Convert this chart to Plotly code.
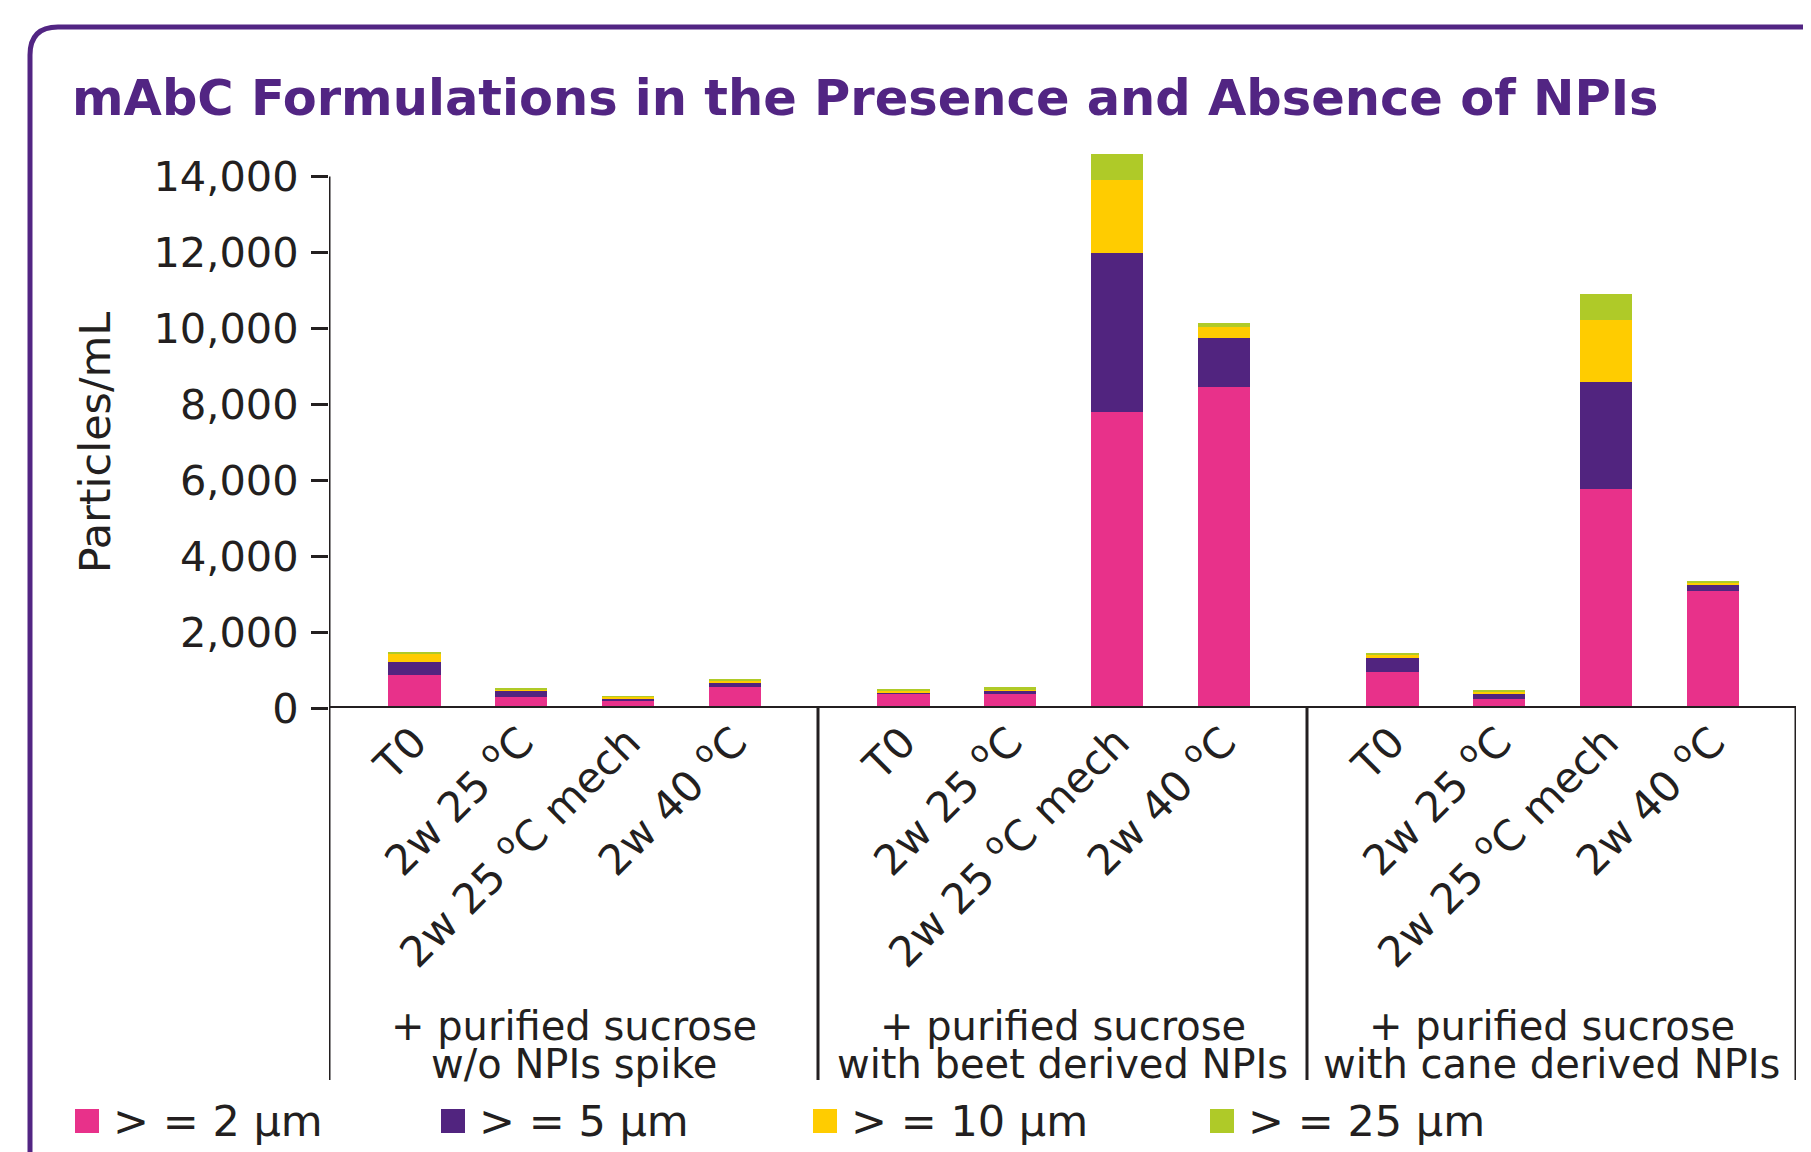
import plotly.graph_objects as go

# ---------------------------
# data (particles/mL)
# ---------------------------
groups = [
    ["+ purified sucrose", "w/o NPIs spike"],
    ["+ purified sucrose", "with beet derived NPIs"],
    ["+ purified sucrose", "with cane derived NPIs"],
]
conditions = ["T0", "2w 25 <sup>o</sup>C", "2w 25 <sup>o</sup>C mech", "2w 40 <sup>o</sup>C"]

series_names = ["> = 2 µm", "> = 5 µm", "> = 10 µm", "> = 25 µm"]
series_colors = ["#E8318A", "#51247F", "#FFCC00", "#AFCA28"]

# one value per bar, groups in order (3 groups x 4 conditions)
ge2 = [860, 300, 175, 565, 360, 360, 7810, 8450, 940, 250, 5760, 3070]
ge5 = [340, 140, 70, 95, 60, 100, 4170, 1310, 370, 130, 2820, 190]
ge10 = [240, 60, 45, 60, 40, 40, 1940, 270, 110, 50, 1650, 50]
ge25 = [30, 20, 20, 30, 30, 45, 670, 100, 40, 30, 670, 30]

series_values = [ge2, ge5, ge10, ge25]

# ---------------------------
# layout helpers (pixel targets are page pixels; page body adds 8px)
# ---------------------------
W, H = 1811, 1152
OFF = 8
ML, MR, MT, MB = 329 - OFF, 15 + OFF, 150 - OFF, 444 + OFF
GROUP_W = 4.58
FIRST = 0.8
XMAX = GROUP_W * len(groups)
YMAX = 14700

xs = [g * GROUP_W + FIRST + i for g in range(len(groups)) for i in range(len(conditions))]
tick_text = conditions * len(groups)

INK = "#231F20"
PURPLE = "#522583"
FONT = "DejaVu Sans"

fig = go.Figure()
for name, color, vals in zip(series_names, series_colors, series_values):
    fig.add_trace(go.Bar(x=xs, y=vals, name=name, marker_color=color,
                         marker_line_width=0, width=0.49, showlegend=False))

plot_h = H - MT - MB
plot_w = W - ML - MR


def py(page_y):
    # page pixel row -> paper y
    return (H - MB - (page_y - OFF)) / plot_h


def px(page_x):
    return (page_x - OFF - ML) / plot_w


shapes = []
# y axis line (data part + extension down through the label area)
shapes.append(dict(type="line", xref="x", yref="y", x0=0, x1=0, y0=0, y1=14000,
                   line=dict(color=INK, width=3)))
for xv in [GROUP_W * k for k in range(len(groups) + 1)]:
    shapes.append(dict(type="line", xref="x", yref="paper", x0=xv, x1=xv,
                       y0=0, y1=py(1080), line=dict(color=INK, width=3)))
# x axis line
shapes.append(dict(type="line", xref="x", yref="y", x0=0, x1=XMAX, y0=0, y1=0,
                   line=dict(color=INK, width=4)))

# rounded purple frame
fx, ftop = px(30), py(27)
rx, ry = 28 / plot_w, 28 / plot_h
shapes.append(dict(type="path", xref="paper", yref="paper",
                   path=f"M {fx},{py(1200)} L {fx},{ftop - ry} Q {fx},{ftop} {fx + rx},{ftop} L {px(1850)},{ftop}",
                   line=dict(color=PURPLE, width=5)))

annotations = []
# y axis title
annotations.append(dict(text="Particles/mL", xref="paper", yref="y", x=px(95), y=7000,
                        textangle=-90, showarrow=False, xanchor="center", yanchor="middle",
                        font=dict(family=FONT, size=43, color=INK)))
# group labels
for g, (l1, l2) in enumerate(groups):
    cx = g * GROUP_W + GROUP_W / 2
    annotations.append(dict(text=l1, xref="x", yref="paper", x=cx, y=py(1026), showarrow=False,
                            xanchor="center", yanchor="middle", font=dict(family=FONT, size=40, color=INK)))
    annotations.append(dict(text=l2, xref="x", yref="paper", x=cx, y=py(1064), showarrow=False,
                            xanchor="center", yanchor="middle", font=dict(family=FONT, size=40, color=INK)))

# legend (drawn by hand to get the big squares)
leg_x = [75, 441, 813, 1210]
leg_y = 1121
for lx, name, color in zip(leg_x, series_names, series_colors):
    shapes.append(dict(type="rect", xref="paper", yref="paper",
                       x0=px(lx), x1=px(lx + 24), y0=py(leg_y + 12), y1=py(leg_y - 12),
                       fillcolor=color, line=dict(width=0)))
    annotations.append(dict(text=name, xref="paper", yref="paper", x=px(lx + 36), y=py(leg_y),
                            showarrow=False, xanchor="left", yanchor="middle",
                            font=dict(family=FONT, size=43, color=INK)))

fig.update_layout(
    width=W, height=H,
    margin=dict(l=ML, r=MR, t=MT, b=MB),
    paper_bgcolor="white", plot_bgcolor="white",
    barmode="stack",
    title=dict(text="mAbC Formulations in the Presence and Absence of NPIs",
               xref="container", yref="container", x=(72 - OFF) / W, xanchor="left",
               y=1 - (98 - OFF) / H, yanchor="middle",
               font=dict(family=FONT, size=49.5, color=PURPLE, weight="bold")),
    xaxis=dict(range=[0, XMAX], tickvals=xs, ticktext=tick_text, tickangle=-45,
               showgrid=False, zeroline=False, showline=False, ticks="",
               tickfont=dict(family=FONT, size=42, color=INK)),
    yaxis=dict(range=[0, YMAX], tickvals=list(range(0, 14001, 2000)), tickformat=",d",
               showgrid=False, zeroline=False, showline=False,
               ticks="outside", ticklen=17, tickwidth=3, tickcolor=INK,
               ticklabelstandoff=4,
               tickfont=dict(family=FONT, size=41.5, color=INK)),
    shapes=shapes,
    annotations=annotations,
)

fig.write_html("out.html")
